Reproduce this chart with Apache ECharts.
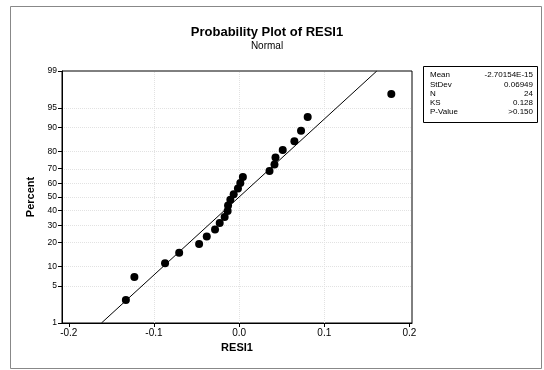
<!DOCTYPE html>
<html><head><meta charset="utf-8">
<script src="https://cdn.jsdelivr.net/npm/echarts@6/dist/echarts.min.js"></script>
<style>html,body{margin:0;padding:0;background:#fff}#c{width:544px;height:370px}</style>
</head><body><div id="c"></div>
<script>
// Residuals (sorted)
const residuals = [-0.133, -0.123, -0.087, -0.0704, -0.047, -0.038, -0.0283, -0.0228,
  -0.017, -0.0135, -0.013, -0.0103, -0.0064, -0.0014, 0.0014, 0.0044,
  0.0357, 0.0415, 0.0427, 0.0512, 0.0649, 0.0727, 0.0805, 0.1787];
// Plotted percent for each point
const percents = [2.87, 6.97, 11.07, 15.16, 19.26, 23.36, 27.46, 31.56,
  35.66, 39.75, 43.85, 47.95, 52.05, 56.15, 60.25, 64.34,
  68.44, 72.54, 76.64, 80.74, 84.84, 88.93, 93.03, 97.13];
const percentTicks = [1, 5, 10, 20, 30, 40, 50, 60, 70, 80, 90, 95, 99];
const xTicks = [-0.2, -0.1, 0, 0.1, 0.2];
const statNames = ['Mean', 'StDev', 'N', 'KS', 'P-Value'];
const statValues = ['-2.70154E-15', '0.06949', '24', '0.128', '>0.150'];
const fitMean = -2.70154e-15;
const fitSd = 0.06949;
const fitPercents = [1, 99];

function invNorm(p){
  const a=[-3.969683028665376e+01,2.209460984245205e+02,-2.759285104469687e+02,1.383577518672690e+02,-3.066479806614716e+01,2.506628277459239e+00];
  const b=[-5.447609879822406e+01,1.615858368580409e+02,-1.556989798598866e+02,6.680131188771972e+01,-1.328068155288572e+01];
  const c=[-7.784894002430293e-03,-3.223964580411365e-01,-2.400758277161838e+00,-2.549732539343734e+00,4.374664141464968e+00,2.938163982698783e+00];
  const d=[7.784695709041462e-03,3.224671290700398e-01,2.445134137142996e+00,3.754408661907416e+00];
  const pl=0.02425, ph=1-pl; let q,r;
  if(p<pl){q=Math.sqrt(-2*Math.log(p));return (((((c[0]*q+c[1])*q+c[2])*q+c[3])*q+c[4])*q+c[5])/((((d[0]*q+d[1])*q+d[2])*q+d[3])*q+1);}
  if(p>ph){q=Math.sqrt(-2*Math.log(1-p));return -(((((c[0]*q+c[1])*q+c[2])*q+c[3])*q+c[4])*q+c[5])/((((d[0]*q+d[1])*q+d[2])*q+d[3])*q+1);}
  q=p-0.5;r=q*q;return (((((a[0]*r+a[1])*r+a[2])*r+a[3])*r+a[4])*r+a[5])*q/(((((b[0]*r+b[1])*r+b[2])*r+b[3])*r+b[4])*r+1);
}

const yTickZ = percentTicks.map(t => invNorm(t / 100));
const zMin = invNorm(0.01), zMax = invNorm(0.99);
const points = residuals.map((x, i) => [x, invNorm(percents[i] / 100)]);
const fitLine = fitPercents.map(p => { const z = invNorm(p / 100); return [fitMean + z * fitSd, z]; });

const font = 'Liberation Sans';
const chart = echarts.init(document.getElementById('c'), null, {renderer: 'canvas'});

const statGraphics = [];
statNames.forEach((n, i) => {
  statGraphics.push({type: 'text', left: 430, top: 71 + i * 9.3,
    style: {text: n, font: '8px ' + font, fill: '#000'}});
  statGraphics.push({type: 'text', right: 544 - 533, top: 71 + i * 9.3,
    style: {text: statValues[i], font: '8px ' + font, fill: '#000', align: 'right'}});
});

chart.setOption({
  animation: false,
  backgroundColor: '#fff',
  title: {
    text: 'Probability Plot of RESI1', subtext: 'Normal',
    left: 262, textAlign: 'center', top: 21, itemGap: 2,
    textStyle: {fontFamily: font, fontWeight: 'bold', fontSize: 13, color: '#000'},
    subtextStyle: {fontFamily: font, fontSize: 10, color: '#000'}
  },
  grid: {left: 62, right: 132, top: 71, bottom: 47, show: true, borderColor: '#000', borderWidth: 1},
  xAxis: {
    type: 'value', min: -0.208, max: 0.203,
    name: 'RESI1', nameLocation: 'middle', nameGap: 19,
    nameTextStyle: {fontFamily: font, fontWeight: 'bold', fontSize: 11, color: '#000'},
    axisLine: {show: true, onZero: false, lineStyle: {color: '#000'}},
    axisTick: {show: true, length: 4, customValues: xTicks, lineStyle: {color: '#000'}},
    axisLabel: {customValues: xTicks, fontFamily: font, fontSize: 10, color: '#000', margin: 5,
      formatter: v => v.toFixed(1)},
    splitLine: {show: false}
  },
  yAxis: {
    type: 'value', min: zMin, max: zMax,
    name: 'Percent', nameLocation: 'middle', nameGap: 24,
    nameTextStyle: {fontFamily: font, fontWeight: 'bold', fontSize: 11, color: '#000'},
    axisLine: {show: true, onZero: false, lineStyle: {color: '#000'}},
    axisTick: {show: true, length: 4, customValues: yTickZ, lineStyle: {color: '#000'}},
    axisLabel: {customValues: yTickZ, fontFamily: font, fontSize: 8.5, color: '#000', margin: 5,
      formatter: v => {
        let best = percentTicks[0], bd = 1e9;
        percentTicks.forEach((t, i) => { const dd = Math.abs(yTickZ[i] - v); if (dd < bd) { bd = dd; best = t; } });
        return String(best);
      }},
    splitLine: {show: false}
  },
  series: [
    {
      type: 'line', data: [], z: 0, silent: true,
      markLine: {
        silent: true, symbol: 'none', label: {show: false}, z: 0,
        lineStyle: {color: '#e2e2e2', type: 'dotted', width: 1},
        data: yTickZ.slice(1, -1).map(z => ({yAxis: z})).concat(xTicks.slice(1, -1).map(x => ({xAxis: x})))
      }
    },
    {
      type: 'line', data: fitLine, showSymbol: false, symbol: 'none',
      lineStyle: {color: '#000', width: 1}, silent: true, z: 2
    },
    {
      type: 'scatter', data: points, symbol: 'circle', symbolSize: 8,
      itemStyle: {color: '#000', opacity: 1}, z: 5
    }
  ],
  graphic: [
    {type: 'rect', left: 8, top: 4, shape: {width: 531, height: 362},
      style: {fill: 'none', stroke: '#888', lineWidth: 1}},
    {type: 'rect', left: 423, top: 66, shape: {width: 114, height: 56},
      style: {fill: '#fff', stroke: '#000', lineWidth: 1}},
    ...statGraphics
  ]
});
</script>
</body></html>
